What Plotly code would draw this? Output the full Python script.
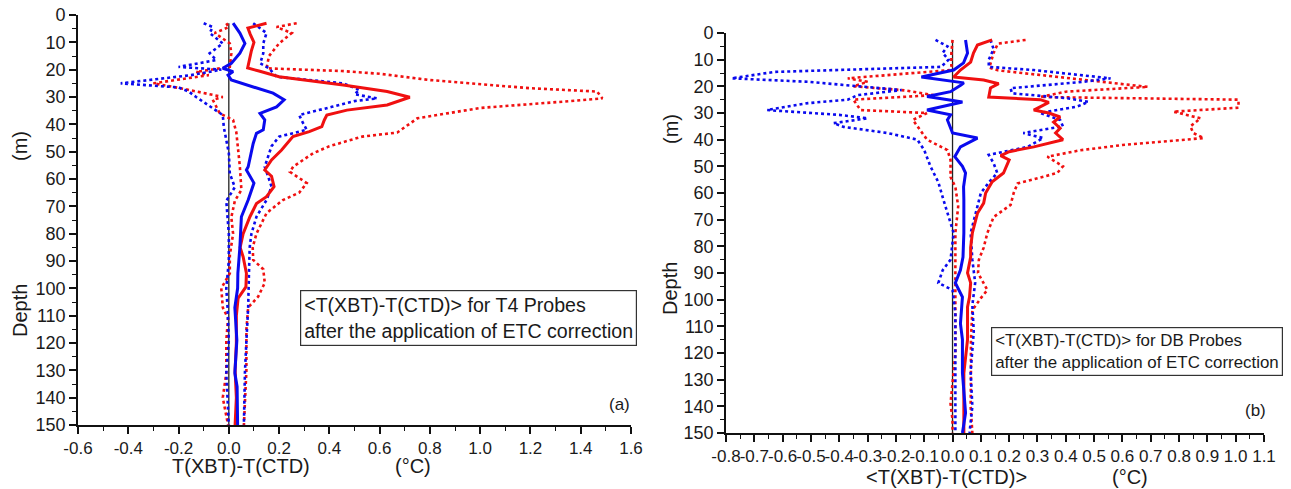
import plotly.graph_objects as go

# ---------------- Panel (a): T4 probes ----------------
a_red_mean_d = [3, 4.8, 7, 10, 13, 15, 19.4, 20.5, 22.6, 25.6, 28, 30.1, 32.9, 34.8, 36.6, 38.4, 40.8, 42.7, 44.5, 49.4, 53, 56.7, 59, 62.8, 66.5, 69, 73.8, 80, 85, 88.5, 94.5, 99.5, 103.6, 110, 120, 130, 140, 150]
a_red_mean_v = [0.15, 0.076, 0.085, 0.10, 0.09, 0.085, 0.075, 0.12, 0.2, 0.455, 0.63, 0.72, 0.63, 0.47, 0.39, 0.38, 0.37, 0.32, 0.255, 0.21, 0.17, 0.143, 0.17, 0.18, 0.15, 0.11, 0.084, 0.057, 0.045, 0.057, 0.07, 0.068, 0.037, 0.03, 0.03, 0.025, 0.03, 0.025]

a_red_hi_d = [3, 4.4, 6.6, 10.4, 15, 19.5, 20.5, 21.5, 23.8, 26.8, 28, 30.5, 31.7, 34, 37.8, 41.5, 43, 44.5, 48, 50.6, 55.5, 57.4, 61.5, 65, 67.7, 72.5, 80, 85, 89.6, 93, 98, 103, 107, 115, 130, 140, 150]
a_red_hi_v = [0.27, 0.19, 0.25, 0.2, 0.16, 0.15, 0.45, 0.6, 0.8, 1.2, 1.465, 1.486, 1.33, 1.0, 0.75, 0.69, 0.67, 0.53, 0.40, 0.335, 0.256, 0.243, 0.31, 0.28, 0.215, 0.15, 0.11, 0.095, 0.097, 0.137, 0.143, 0.117, 0.077, 0.07, 0.07, 0.065, 0.06]

a_red_lo_d = [3, 4.4, 6.6, 10.4, 14, 19, 20.8, 22, 25, 27, 30, 31, 36, 38.4, 43, 49.4, 55.5, 64, 68, 74, 80, 88, 94.5, 100, 107, 111, 119, 131, 140, 150]
a_red_lo_v = [-0.01, 0.0, -0.056, 0.004, 0.01, 0.004, -0.13, -0.08, -0.3, -0.18, -0.024, -0.064, -0.036, 0.017, 0.03, 0.037, 0.044, 0.05, 0.024, 0.01, 0.017, 0.004, 0.004, -0.03, -0.024, -0.003, -0.01, -0.01, -0.024, -0.003]

a_blue_mean_d = [3, 6.6, 10.4, 14, 17.7, 19.5, 20.7, 22, 23.8, 26.3, 28.6, 31, 33.6, 36, 38.4, 42, 43.3, 47, 55.5, 56.7, 61.5, 67.7, 73.8, 85, 90, 94.5, 100, 107, 119, 131, 136, 149, 150]
a_blue_mean_v = [0.017, 0.044, 0.064, 0.044, 0.01, -0.024, 0.017, -0.003, 0.01, 0.097, 0.176, 0.22, 0.19, 0.124, 0.143, 0.137, 0.11, 0.097, 0.077, 0.07, 0.10, 0.077, 0.05, 0.044, 0.04, 0.036, 0.035, 0.024, 0.032, 0.024, 0.033, 0.036, 0.035]

a_blue_hi_d = [3, 6.6, 10.4, 14, 17.7, 19.5, 22.6, 24, 25, 27.4, 29, 30.5, 31.5, 33.6, 36.6, 39.5, 42, 44.5, 48, 55.5, 62.8, 67.7, 73.8, 80, 85, 95, 107, 119, 131, 150]
a_blue_hi_v = [0.097, 0.15, 0.137, 0.137, 0.125, 0.16, 0.19, 0.35, 0.455, 0.52, 0.5, 0.59, 0.5, 0.41, 0.28, 0.295, 0.31, 0.2, 0.17, 0.143, 0.17, 0.15, 0.11, 0.09, 0.083, 0.08, 0.077, 0.07, 0.064, 0.06]

a_blue_lo_d = [3, 4.4, 6.6, 10.4, 14, 16.5, 19, 20, 22, 25, 26.5, 28, 30, 32.4, 36.6, 41, 45.7, 50.5, 58, 63, 68, 80, 90, 100, 107, 119, 131, 143, 150]
a_blue_lo_v = [-0.1, -0.064, -0.076, -0.024, -0.076, -0.05, -0.2, -0.03, -0.15, -0.43, -0.2, -0.16, -0.13, -0.09, -0.024, -0.02, -0.01, 0.0, 0.004, 0.024, -0.01, 0.0, 0.0, -0.01, -0.005, 0.0, -0.01, -0.005, 0.0]

# ---------------- Panel (b): DB probes ----------------
b_red_mean_d = [2.6, 4.5, 7.5, 10.9, 13.9, 16.5, 17.6, 19, 20.6, 24, 25, 26, 28.9, 30, 31.5, 33.4, 35.7, 37.5, 40, 42.7, 44.5, 46, 47.6, 52.5, 55.8, 60, 63.8, 67.6, 75, 80.5, 84, 90, 93.7, 99, 102.7, 115, 127.5, 140, 150]
b_red_mean_v = [0.14, 0.088, 0.074, 0.064, 0.028, 0.004, 0.11, 0.163, 0.134, 0.128, 0.31, 0.34, 0.287, 0.34, 0.38, 0.357, 0.38, 0.364, 0.39, 0.287, 0.2, 0.17, 0.2, 0.18, 0.14, 0.117, 0.11, 0.088, 0.07, 0.064, 0.064, 0.053, 0.064, 0.06, 0.053, 0.053, 0.04, 0.04, 0.04]

b_red_hi_d = [2.6, 4, 7.5, 11, 13, 14, 20.2, 22, 24, 25, 28, 29.5, 32, 35, 37.5, 39.4, 42, 44, 46.4, 50, 52.5, 56.4, 60, 64.5, 69, 75, 80.5, 85, 90, 96.4, 99.4, 104, 115, 130, 140, 150]
b_red_hi_v = [0.258, 0.16, 0.145, 0.134, 0.13, 0.16, 0.69, 0.40, 0.31, 1.01, 1.01, 0.78, 0.876, 0.84, 0.85, 0.887, 0.6, 0.45, 0.335, 0.39, 0.37, 0.23, 0.216, 0.205, 0.145, 0.123, 0.11, 0.093, 0.09, 0.123, 0.1, 0.07, 0.065, 0.065, 0.064, 0.07]

b_red_lo_d = [2.6, 7.5, 12.7, 13.9, 17, 18.3, 20, 21.5, 23.3, 25, 28.9, 30, 32.6, 36.4, 40, 43.9, 47.6, 54, 57.7, 65, 75, 85, 100, 120, 139, 145, 150]
b_red_lo_v = [0.0, -0.004, -0.004, -0.01, -0.37, -0.30, -0.35, -0.17, -0.067, -0.35, -0.325, -0.09, -0.14, -0.113, -0.09, -0.018, -0.007, -0.007, 0.01, 0.02, 0.01, 0.01, 0.01, 0.01, -0.007, 0.0, 0.0]

b_blue_mean_d = [2.6, 7.5, 11.2, 13.9, 16.5, 18.7, 19.5, 22, 23.8, 25.9, 28.9, 30.7, 32.6, 35.2, 37.5, 39.4, 42.7, 46.4, 50, 52.5, 57.7, 62.6, 75, 84, 88.9, 93.7, 99, 109, 115, 127.5, 142.5, 150]
b_blue_mean_v = [0.046, 0.053, 0.039, 0.004, -0.11, 0.04, 0.03, -0.007, -0.09, 0.035, -0.09, -0.007, -0.018, -0.007, 0.0, 0.088, 0.028, 0.008, 0.035, 0.046, 0.039, 0.04, 0.04, 0.037, 0.028, 0.01, 0.035, 0.028, 0.035, 0.035, 0.046, 0.035]

b_blue_hi_d = [2.6, 6, 10, 12.7, 13.9, 17, 18.3, 20.7, 22.6, 24.5, 25.8, 27.6, 30, 32.6, 35, 37.5, 39.4, 42.7, 45.7, 48.8, 52.5, 55.8, 60, 65, 75, 85, 93.7, 102, 112, 127, 140, 150]
b_blue_hi_v = [0.134, 0.145, 0.128, 0.128, 0.287, 0.558, 0.463, 0.205, 0.21, 0.405, 0.48, 0.44, 0.31, 0.38, 0.39, 0.25, 0.32, 0.265, 0.128, 0.145, 0.158, 0.13, 0.1, 0.088, 0.064, 0.07, 0.08, 0.07, 0.075, 0.064, 0.07, 0.06]

b_blue_lo_d = [2.6, 5, 7.5, 10, 12.7, 14.6, 17, 18.3, 21.4, 23.3, 25, 26.3, 28.9, 30.7, 32, 33.8, 35.2, 37.5, 40, 43.9, 50, 56, 62.6, 69, 75, 85, 89, 93.7, 96.4, 105, 150]
b_blue_lo_v = [-0.06, -0.018, -0.035, -0.014, -0.04, -0.63, -0.78, -0.51, -0.18, -0.335, -0.37, -0.51, -0.655, -0.4, -0.3, -0.42, -0.385, -0.23, -0.124, -0.1, -0.078, -0.05, -0.032, -0.014, 0.004, -0.007, -0.035, -0.05, 0.0, 0.01, 0.01]

zero_v = [0, 0]
a_zero_d = [3, 150]
b_zero_d = [2.6, 150]

# tick labels (plain hyphen minus, as in the original)
a_xtick_vals = [-0.6, -0.4, -0.2, 0.0, 0.2, 0.4, 0.6, 0.8, 1.0, 1.2, 1.4, 1.6]
a_xtick_text = ["-0.6", "-0.4", "-0.2", "0.0", "0.2", "0.4", "0.6", "0.8", "1.0", "1.2", "1.4", "1.6"]
b_xtick_vals = [-0.8, -0.7, -0.6, -0.5, -0.4, -0.3, -0.2, -0.1, 0.0, 0.1, 0.2, 0.3, 0.4, 0.5, 0.6, 0.7, 0.8, 0.9, 1.0, 1.1]
b_xtick_text = ["-0.8", "-0.7", "-0.6", "-0.5", "-0.4", "-0.3", "-0.2", "-0.1", "0.0", "0.1", "0.2", "0.3", "0.4", "0.5", "0.6", "0.7", "0.8", "0.9", "1.0", "1.1"]

RED = "#f01010"
BLUE = "#0a0aee"
FONT = "Liberation Sans, Arial, sans-serif"
OFF = 8                      # page body margin in the browser
W, H = 1291 - OFF, 489 - OFF

fig = go.Figure()

def add(x, y, color, dash, width, xa, ya):
    fig.add_trace(go.Scatter(x=x, y=y, mode="lines", xaxis=xa, yaxis=ya,
                             line=dict(color=color, width=width, dash=dash),
                             hoverinfo="skip", showlegend=False))

for xa, ya, zd, rl, rh, bl, bh, rm, bm in [
    ("x", "y", a_zero_d, (a_red_lo_v, a_red_lo_d), (a_red_hi_v, a_red_hi_d),
     (a_blue_lo_v, a_blue_lo_d), (a_blue_hi_v, a_blue_hi_d),
     (a_red_mean_v, a_red_mean_d), (a_blue_mean_v, a_blue_mean_d)),
    ("x2", "y2", b_zero_d, (b_red_lo_v, b_red_lo_d), (b_red_hi_v, b_red_hi_d),
     (b_blue_lo_v, b_blue_lo_d), (b_blue_hi_v, b_blue_hi_d),
     (b_red_mean_v, b_red_mean_d), (b_blue_mean_v, b_blue_mean_d)),
]:
    add(zero_v, zd, "#222222", "solid", 1.3, xa, ya)
    add(rl[0], rl[1], RED, "dot", 2.6, xa, ya)
    add(rh[0], rh[1], RED, "dot", 2.6, xa, ya)
    add(bl[0], bl[1], BLUE, "dot", 2.6, xa, ya)
    add(bh[0], bh[1], BLUE, "dot", 2.6, xa, ya)
    add(rm[0], rm[1], RED, "solid", 3, xa, ya)
    add(bm[0], bm[1], BLUE, "solid", 3, xa, ya)

def px_x(p):
    return (p - OFF) / W

def px_y(p):
    return 1 - (p - OFF) / H

tickfont = dict(family=FONT, size=17, color="#1a1a1a")
axis_base = dict(showline=True, linecolor="#111", linewidth=1.6, ticks="outside",
                 ticklen=7, tickwidth=1.6, tickcolor="#111", showgrid=False,
                 zeroline=False, tickangle=0, automargin=False, mirror=False)
common_y = dict(tickfont=dict(family=FONT, size=18, color="#1a1a1a"),
                range=[150, 0], tickmode="linear", dtick=10, tick0=0,
                minor=dict(ticks="outside", ticklen=4, tickwidth=1.4, tickcolor="#111",
                           tickmode="linear", dtick=5, tick0=0, showgrid=False),
                **axis_base)

fig.update_layout(
    template="none",
    width=W, height=H, margin=dict(l=0, r=0, t=0, b=0, pad=0),
    paper_bgcolor="white", plot_bgcolor="white", showlegend=False,
    xaxis=dict(domain=[px_x(78), px_x(631)], range=[-0.6, 1.6],
               tickmode="array", tickvals=a_xtick_vals, ticktext=a_xtick_text,
               tickfont=tickfont, anchor="y",
               minor=dict(ticks="outside", ticklen=4, tickwidth=1.4, tickcolor="#111",
                          tickmode="linear", dtick=0.1, tick0=0, showgrid=False),
               **axis_base),
    yaxis=dict(domain=[px_y(425), px_y(15)], anchor="x", **common_y),
    xaxis2=dict(domain=[px_x(726), px_x(1264)], range=[-0.8, 1.1],
                tickmode="array", tickvals=b_xtick_vals, ticktext=b_xtick_text,
                tickfont=tickfont, anchor="y2",
                minor=dict(ticks="outside", ticklen=4, tickwidth=1.4, tickcolor="#111",
                           tickmode="linear", dtick=0.05, tick0=0, showgrid=False),
                **axis_base),
    yaxis2=dict(domain=[px_y(433), px_y(33)], anchor="x2", **common_y),
)

def ann(text, x, y, size, angle=0, xanchor="center", yanchor="middle", **kw):
    fig.add_annotation(text=text, x=px_x(x), y=px_y(y), xref="paper", yref="paper",
                       showarrow=False, textangle=angle, xanchor=xanchor, yanchor=yanchor,
                       font=dict(family=FONT, size=size, color="#1a1a1a"), **kw)

# axis titles panel (a)
ann("Depth", 20, 311, 20, angle=-90)
ann("(m)", 20, 146, 20, angle=-90)
ann("T(XBT)-T(CTD)", 241, 466, 20)
ann("(°C)", 413, 466, 20)
# axis titles panel (b)
ann("Depth", 670, 289, 20, angle=-90)
ann("(m)", 671, 129, 20, angle=-90)
ann("&lt;T(XBT)-T(CTD)&gt;", 946, 477, 20)
ann("(°C)", 1130, 477, 20)
# panel labels
ann("(a)", 632, 404, 17, xanchor="right")
ann("(b)", 1268, 410, 17, xanchor="right")
# boxes
ann("&lt;T(XBT)-T(CTD)&gt; for T4 Probes<br>after the application of ETC correction",
    300, 290, 19.6, xanchor="left", yanchor="top", align="left",
    bordercolor="#333", borderwidth=1.2, borderpad=3, bgcolor="white")
ann("&lt;T(XBT)-T(CTD)&gt; for DB Probes<br>after the application of ETC correction",
    991, 327, 16.9, xanchor="left", yanchor="top", align="left",
    bordercolor="#333", borderwidth=1.2, borderpad=3, bgcolor="white")

fig.write_html("out.html")
